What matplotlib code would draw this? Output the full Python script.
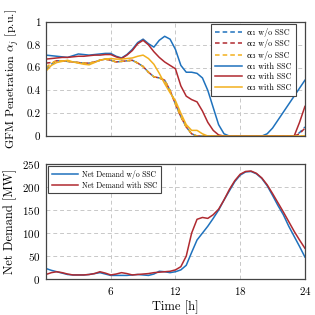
import numpy as np
import matplotlib
matplotlib.use("Agg")
import matplotlib.pyplot as plt

plt.rcParams['font.family'] = ['cmr10', 'DejaVu Serif']
plt.rcParams['mathtext.fontset'] = 'cm'
plt.rcParams['axes.formatter.use_mathtext'] = True

# time axis (hours, half-hour resolution)
hours = np.arange(0, 24.5, 0.5)

# GFM penetration with SSC
a1_ssc = [0.71, 0.705, 0.70, 0.695, 0.69, 0.705, 0.72, 0.715,
          0.71, 0.715, 0.72, 0.725, 0.725, 0.70, 0.685, 0.715,
          0.76, 0.82, 0.85, 0.81, 0.78, 0.84, 0.875, 0.85,
          0.76, 0.62, 0.56, 0.56, 0.55, 0.51, 0.40, 0.25,
          0.10, 0.02, 0, 0, 0, 0, 0, 0,
          0, 0.02, 0.07, 0.14, 0.21, 0.28, 0.35, 0.42,
          0.49]
a2_ssc = [0.675, 0.68, 0.685, 0.69, 0.69, 0.695, 0.70, 0.70,
          0.705, 0.71, 0.71, 0.715, 0.715, 0.695, 0.68, 0.71,
          0.75, 0.81, 0.84, 0.80, 0.74, 0.69, 0.65, 0.62,
          0.59, 0.44, 0.35, 0.32, 0.30, 0.22, 0.12, 0.05,
          0.01, 0, 0, 0, 0, 0, 0, 0,
          0, 0, 0, 0, 0, 0, 0, 0.12,
          0.26]
a3_ssc = [0.57, 0.62, 0.645, 0.655, 0.665, 0.65, 0.64, 0.63,
          0.625, 0.645, 0.665, 0.675, 0.68, 0.675, 0.675, 0.68,
          0.685, 0.70, 0.71, 0.68, 0.63, 0.55, 0.46, 0.38,
          0.31, 0.20, 0.10, 0.05, 0.05, 0.02, 0, 0,
          0, 0, 0, 0, 0, 0, 0, 0,
          0, 0, 0, 0, 0, 0, 0, 0,
          0]
# GFM penetration without SSC
a1_wo = [0.58, 0.63, 0.66, 0.66, 0.655, 0.65, 0.645, 0.64,
         0.64, 0.65, 0.665, 0.675, 0.665, 0.65, 0.655, 0.66,
         0.665, 0.64, 0.61, 0.56, 0.52, 0.51, 0.49, 0.40,
         0.28, 0.17, 0.08, 0.02, 0, 0, 0, 0,
         0, 0, 0, 0, 0, 0, 0, 0,
         0, 0, 0, 0, 0, 0, 0, 0.03,
         0.08]
a2_wo = [0.64, 0.645, 0.66, 0.66, 0.655, 0.65, 0.645, 0.64,
         0.64, 0.65, 0.665, 0.675, 0.665, 0.65, 0.655, 0.66,
         0.665, 0.64, 0.61, 0.56, 0.52, 0.51, 0.49, 0.40,
         0.28, 0.17, 0.08, 0.02, 0, 0, 0, 0,
         0, 0, 0, 0, 0, 0, 0, 0,
         0, 0, 0, 0, 0, 0, 0, 0.02,
         0.07]
a3_wo = [0.60, 0.64, 0.66, 0.66, 0.655, 0.65, 0.645, 0.64,
         0.64, 0.65, 0.665, 0.675, 0.665, 0.65, 0.655, 0.66,
         0.665, 0.64, 0.61, 0.56, 0.52, 0.51, 0.49, 0.40,
         0.28, 0.17, 0.08, 0.02, 0, 0, 0, 0,
         0, 0, 0, 0, 0, 0, 0, 0,
         0, 0, 0, 0, 0, 0, 0, 0,
         0]

# Net demand [MW]
nd_wo = [23, 19, 16, 13, 10, 9, 9, 9,
         10, 12, 14, 11, 8, 8, 8, 8,
         9, 10, 9, 8, 11, 17, 16, 14,
         16, 20, 30, 58, 85, 100, 115, 132,
         150, 172, 192, 212, 226, 233, 234, 229,
         219, 203, 182, 160, 140, 115, 93, 71,
         48]
nd_ssc = [10, 14, 16, 14, 11, 9, 9, 9,
          10, 12, 16, 13, 9, 11, 14, 12,
          9, 10, 11, 12, 14, 15, 16, 17,
          20, 27, 50, 100, 130, 134, 132, 140,
          152, 172, 195, 214, 228, 234, 235, 230,
          220, 205, 186, 166, 146, 125, 104, 85,
          67]

xticks = [6, 12, 18, 24]
yticks_top = [0, 0.2, 0.4, 0.6, 0.8, 1]
yticklabels_top = ['0', '0.2', '0.4', '0.6', '0.8', '1']
yticks_bot = [0, 50, 100, 150, 200, 250]

BLUE = '#1f72bd'
RED = '#b02a30'
YEL = '#f2b01e'

fig = plt.figure(figsize=(3.15, 3.15), dpi=100)
ax1 = fig.add_axes([0.146, 0.568, 0.822, 0.362])
ax2 = fig.add_axes([0.146, 0.114, 0.822, 0.365])

lw = 1.1
ds = (3, 2)
ax1.plot(hours, a1_wo, color=BLUE, lw=lw, dashes=ds, label='α₁ w/o SSC')
ax1.plot(hours, a2_wo, color=RED, lw=lw, dashes=ds, label='α₂ w/o SSC')
ax1.plot(hours, a3_wo, color=YEL, lw=lw, dashes=ds, label='α₃ w/o SSC')
ax1.plot(hours, a1_ssc, color=BLUE, lw=lw, label='α₁ with SSC')
ax1.plot(hours, a2_ssc, color=RED, lw=lw, label='α₂ with SSC')
ax1.plot(hours, a3_ssc, color=YEL, lw=lw, label='α₃ with SSC')

ax2.plot(hours, nd_wo, color=BLUE, lw=lw, label='Net Demand w/o SSC')
ax2.plot(hours, nd_ssc, color=RED, lw=lw, label='Net Demand with SSC')

for ax in (ax1, ax2):
    ax.set_xlim(0, 24)
    ax.set_xticks(xticks)
    ax.grid(True, color='#c8c8c8', lw=0.7, dashes=(4, 3))
    ax.set_axisbelow(True)
    ax.tick_params(length=0, labelsize=8, pad=4)
    for s in ax.spines.values():
        s.set_color('#444444')
        s.set_linewidth(0.9)

ax1.set_ylim(0, 1)
ax1.set_yticks(yticks_top)
ax1.set_yticklabels(yticklabels_top)
ax1.tick_params(labelbottom=False)
ax1.set_ylabel(r'GFM Penetration $\alpha_j$ [p.u.]', fontsize=8.6, labelpad=4)

ax2.set_ylim(0, 250)
ax2.set_yticks(yticks_bot)
ax2.set_ylabel('Net Demand [MW]', fontsize=9, labelpad=4)
ax2.set_xlabel('Time [h]', fontsize=9, labelpad=3)

leg_kw = dict(fancybox=False, framealpha=1, edgecolor='#444444',
              handletextpad=0.6)
l1 = ax1.legend(loc='upper right', bbox_to_anchor=(0.965, 0.985), borderaxespad=0,
                fontsize=5.8, labelspacing=0.3, handlelength=3.4, borderpad=0.5,
                **leg_kw)
l2 = ax2.legend(loc='upper left', borderaxespad=0.3, fontsize=5.5,
                labelspacing=0.3, handlelength=3.4, borderpad=0.45, **leg_kw)
for l in (l1, l2):
    l.get_frame().set_linewidth(0.8)

fig.savefig('out.png', dpi=100)
